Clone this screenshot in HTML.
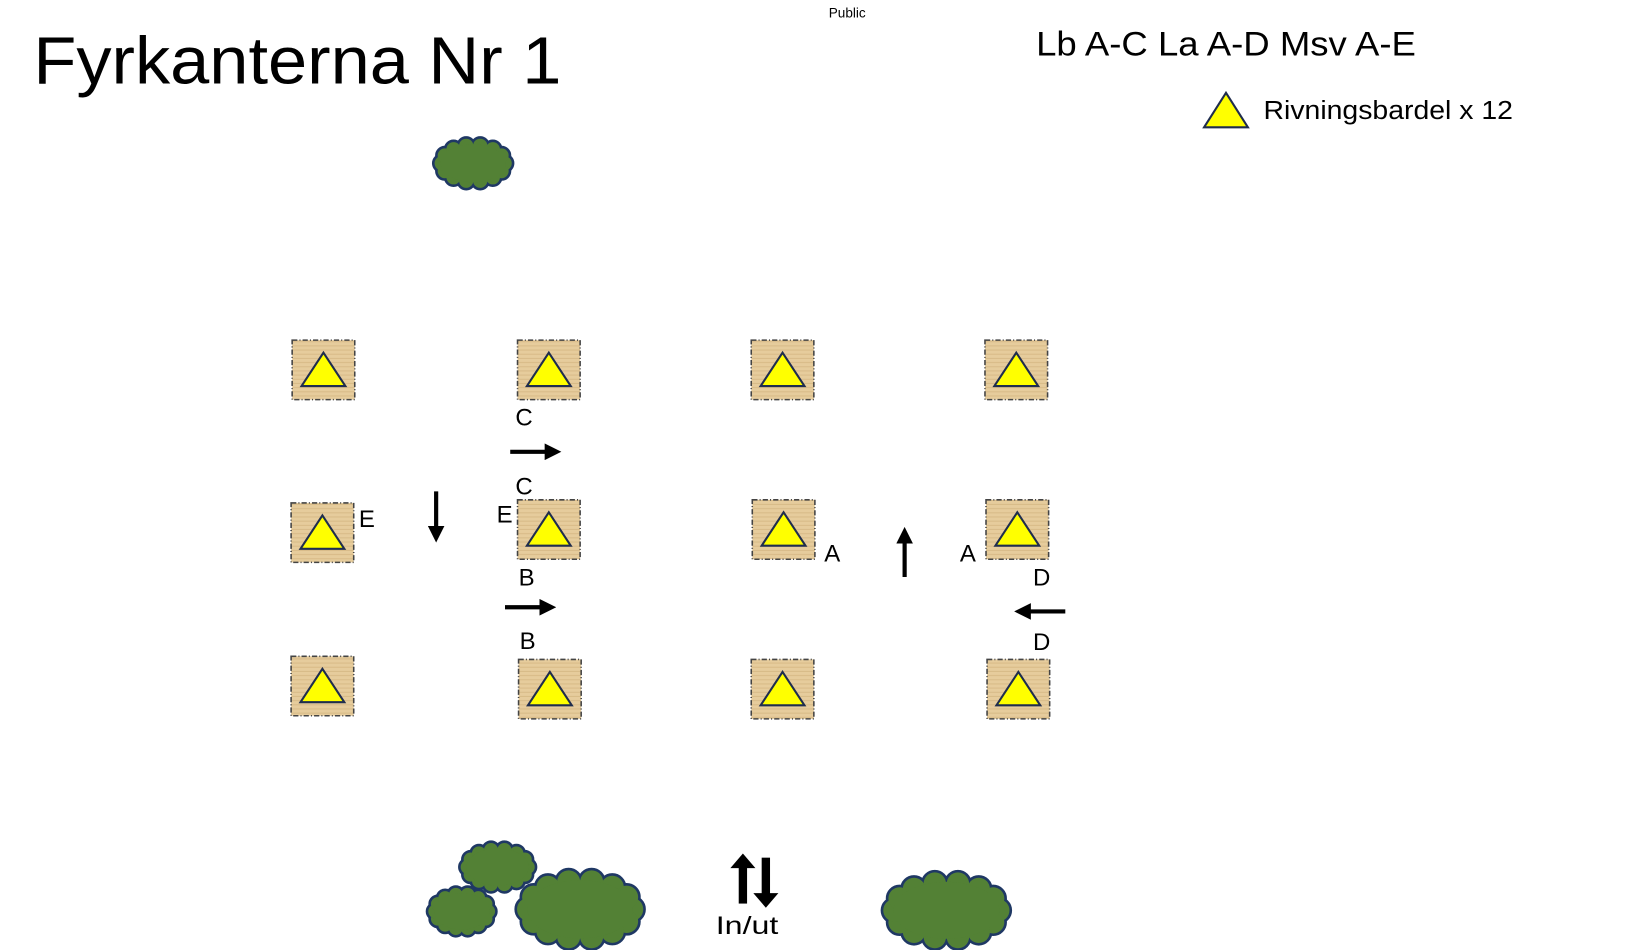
<!DOCTYPE html>
<html><head><meta charset="utf-8"><style>
html,body{margin:0;padding:0;background:#fff;}
svg{display:block;}
text{font-family:"Liberation Sans",sans-serif;fill:#000;}
</style></head><body>
<svg id="s" width="1635" height="950" viewBox="0 0 1567 910.5" preserveAspectRatio="none" xmlns="http://www.w3.org/2000/svg">
<defs>
<pattern id="tex" width="6" height="4" patternUnits="userSpaceOnUse">
<rect width="6" height="4" fill="#e6cc9c"/><rect y="3" width="6" height="1" fill="#d8bb88"/>
</pattern>
<marker id="ah" markerWidth="4" markerHeight="4" refX="2" refY="2" orient="auto" markerUnits="strokeWidth">
<path d="M0,0 L4,2 L0,4 z" fill="#000"/></marker>
</defs>
<text x="32" y="80" font-size="64" textLength="506" lengthAdjust="spacingAndGlyphs">Fyrkanterna Nr 1</text>
<text x="812" y="17" font-size="13" text-anchor="middle">Public</text>
<text x="993" y="53" font-size="33" textLength="364" lengthAdjust="spacingAndGlyphs">Lb A-C La A-D Msv A-E</text>
<polygon points="1175,89 1196,122 1154,122" fill="#ffff00" stroke="#1f2d4d" stroke-width="2"/>
<text x="1211" y="114" font-size="25" textLength="239" lengthAdjust="spacingAndGlyphs">Rivningsbardel x 12</text>
<g id="boxes"></g>
<g id="bush"></g>
<g font-size="23">
<text x="494" y="408">C</text>
<text x="494" y="474">C</text>
<text x="344" y="505">E</text>
<text x="476" y="501">E</text>
<text x="497" y="561">B</text>
<text x="498" y="622">B</text>
<text x="790" y="538">A</text>
<text x="920" y="538">A</text>
<text x="990" y="561">D</text>
<text x="990" y="623">D</text>
</g>
<g stroke="#000" stroke-width="4" marker-end="url(#ah)">
<line x1="489" y1="433" x2="530" y2="433"/>
<line x1="418" y1="471" x2="418" y2="512"/>
<line x1="484" y1="582" x2="525" y2="582"/>
<line x1="867" y1="553" x2="867" y2="513"/>
<line x1="1021" y1="586" x2="980" y2="586"/>
</g>
<g fill="#000">
<rect x="708" y="830" width="8" height="36"/><polygon points="700,832 712,818 724,832"/>
<rect x="730" y="822" width="8" height="36"/><polygon points="722,856 734,870 746,856"/>
</g>
<text x="716" y="895" font-size="24" text-anchor="middle" textLength="60" lengthAdjust="spacingAndGlyphs">In/ut</text>
</svg>
<script>
var NS="http://www.w3.org/2000/svg";
function el(p,t,a){var e=document.createElementNS(NS,t);for(var k in a)e.setAttribute(k,a[k]);p.appendChild(e);return e;}
var B=document.getElementById("boxes");
[[280,326],[496,326],[720,326],[944,326],[279,482],[496,479],[721,479],[945,479],[279,629],[497,632],[720,632],[946,632]].forEach(function(p){
var x=p[0],y=p[1];
el(B,"rect",{x:x,y:y,width:60,height:57,fill:"url(#tex)",stroke:"#444","stroke-width":1.5,"stroke-dasharray":"5,2,1,2"});
el(B,"polygon",{points:(x+30)+","+(y+12)+" "+(x+51)+","+(y+44)+" "+(x+9)+","+(y+44),fill:"#ffff00",stroke:"#1f2d4d","stroke-width":2});
});
var G=document.getElementById("bush");
function bush(x1,y1,x2,y2){
var cx=(x1+x2)/2,cy=(y1+y2)/2,rx=(x2-x1)/2,ry=(y2-y1)/2;
var r=Math.min(rx,ry)*0.3,n=14,cs=[];
for(var i=0;i<n;i++){var a=i/n*2*Math.PI;cs.push([cx+(rx-r)*Math.cos(a),cy+(ry-r)*Math.sin(a),r]);}
cs.forEach(function(c){el(G,"circle",{cx:c[0],cy:c[1],r:c[2],fill:"#538135",stroke:"#1f3864","stroke-width":4});});
cs.forEach(function(c){el(G,"circle",{cx:c[0],cy:c[1],r:c[2]-0.5,fill:"#538135"});});
el(G,"ellipse",{cx:cx,cy:cy,rx:rx-r+1,ry:ry-r+1,fill:"#538135"});
}
bush(416,132,491,181);
bush(441,807,513,855);
bush(410,850,475,897);
bush(495,833,617,910);
bush(846,835,968,910);
</script>
</body></html>
